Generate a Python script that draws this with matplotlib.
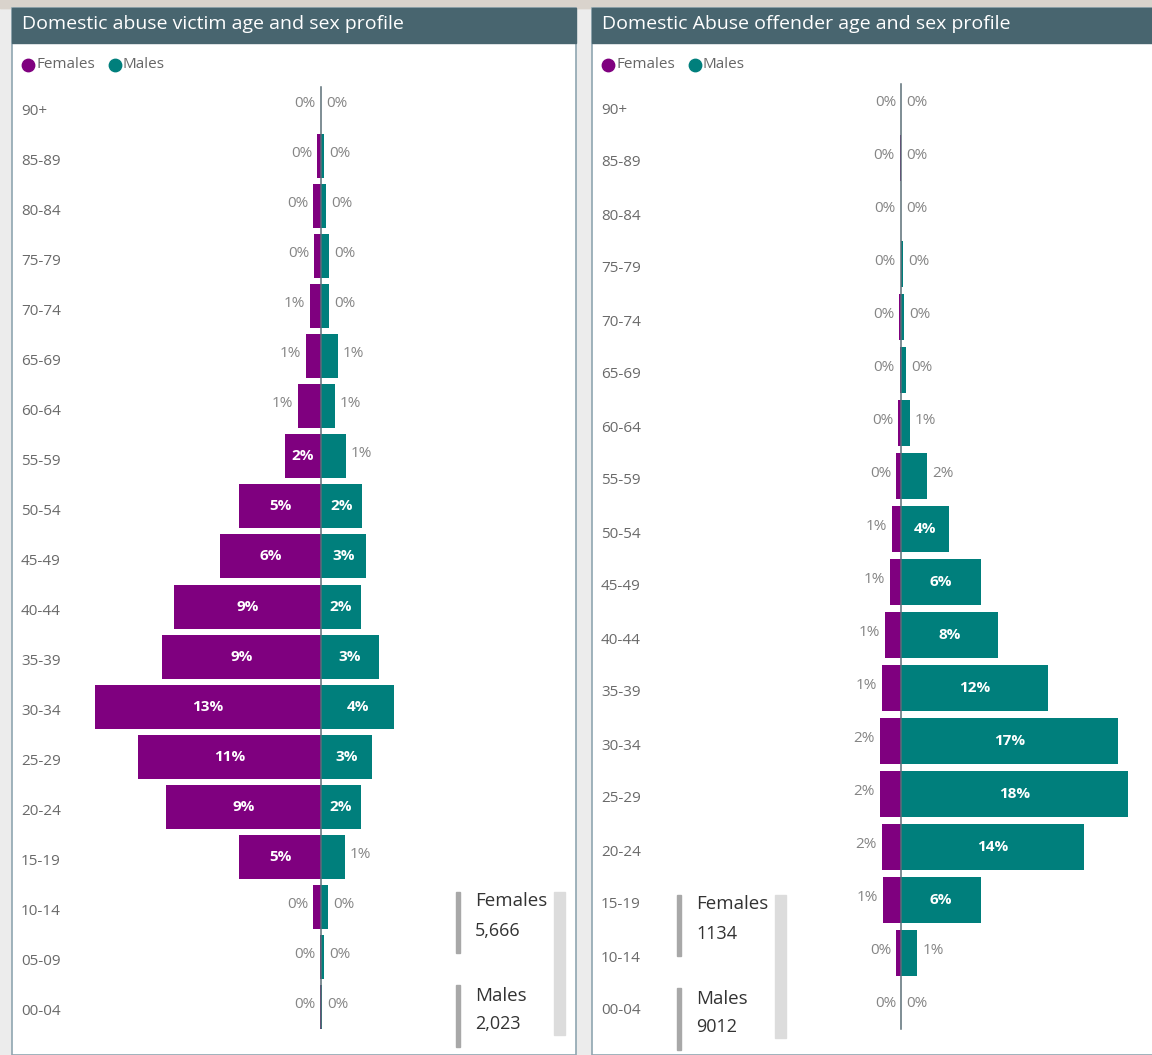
import numpy as np
import matplotlib
matplotlib.use('Agg')
import matplotlib.pyplot as plt
from matplotlib.patches import Rectangle

plt.rcParams['font.family'] = ['Open Sans', 'DejaVu Sans']

# Victim profile (% of all victims)
victim_ages = ['90+', '85-89', '80-84', '75-79', '70-74', '65-69', '60-64', '55-59',
               '50-54', '45-49', '40-44', '35-39', '30-34', '25-29', '20-24', '15-19',
               '10-14', '05-09', '00-04']
victim_females = [0.02, 0.22, 0.47, 0.41, 0.65, 0.89, 1.36, 2.13, 4.85, 6.0, 8.7, 9.4,
                  13.4, 10.8, 9.2, 4.85, 0.47, 0.05, 0.05]
victim_males = [0.02, 0.2, 0.3, 0.48, 0.48, 1.0, 0.83, 1.45, 2.45, 2.66, 2.37, 3.43,
                4.32, 3.0, 2.37, 1.42, 0.41, 0.18, 0.05]
victim_totals = ['5,666', '2,023']

# Offender profile (% of all offenders)
offender_ages = ['90+', '85-89', '80-84', '75-79', '70-74', '65-69', '60-64', '55-59',
                 '50-54', '45-49', '40-44', '35-39', '30-34', '25-29', '20-24', '15-19',
                 '10-14', '00-04']
offender_females = [0.0, 0.08, 0.02, 0.02, 0.15, 0.08, 0.2, 0.36, 0.71, 0.84, 1.26, 1.47,
                    1.66, 1.66, 1.52, 1.45, 0.36, 0.0]
offender_males = [0.0, 0.0, 0.02, 0.15, 0.24, 0.39, 0.71, 2.05, 3.79, 6.3, 7.65, 11.6,
                  17.1, 17.9, 14.4, 6.3, 1.29, 0.02]
offender_totals = ['1134', '9012']

PURPLE = '#7f007f'
TEAL = '#007f7c'
HEADER = '#48656f'
W, H = 1152, 1055

fig = plt.figure(figsize=(W / 100, H / 100), dpi=100)
fig.patch.set_facecolor('#ececec')

# pixel-space overlay for the dashboard decorations
deco = fig.add_axes([0, 0, 1, 1], zorder=0)
deco.set_xlim(0, W)
deco.set_ylim(H, 0)
deco.axis('off')


def panel(x0, x1, title, totals, card_x):
    deco.add_patch(Rectangle((0, 0), W, 8, color='#d9d3cc', zorder=0))
    deco.add_patch(Rectangle((x0, 8), x1 - x0, H - 8, facecolor='white',
                             edgecolor='#8fa6b0', lw=1.2, zorder=1))
    deco.add_patch(Rectangle((x0, 8), x1 - x0, 35, color=HEADER, zorder=2))
    deco.text(x0 + 10, 24, title, color='white', fontsize=14, va='center', zorder=3)
    # legend
    deco.scatter([x0 + 16], [65], s=80, color=PURPLE, zorder=3)
    deco.text(x0 + 24, 65, 'Females', color='#666666', fontsize=11, va='center', zorder=3)
    deco.scatter([x0 + 103], [65], s=80, color=TEAL, zorder=3)
    deco.text(x0 + 111, 65, 'Males', color='#666666', fontsize=11, va='center', zorder=3)
    # summary cards
    top = 892 if card_x < 600 else 895
    deco.add_patch(Rectangle((card_x, top), 3.5, 61, color='#a8a8a8', zorder=3))
    deco.add_patch(Rectangle((card_x, top + 93), 3.5, 62, color='#a8a8a8', zorder=3))
    deco.text(card_x + 19, top + 9, 'Females', color='#333333', fontsize=13.5, va='center', zorder=3)
    deco.text(card_x + 19, top + 39, totals[0], color='#333333', fontsize=13, va='center', zorder=3)
    deco.text(card_x + 19, top + 104, 'Males', color='#333333', fontsize=13.5, va='center', zorder=3)
    deco.text(card_x + 19, top + 132, totals[1], color='#333333', fontsize=13, va='center', zorder=3)
    deco.add_patch(Rectangle((card_x + 98, top), 11, 143, color='#dcdcdc', zorder=3))


panel(12, 576, 'Domestic abuse victim age and sex profile', victim_totals, 456)
panel(592, 1160, 'Domestic Abuse offender age and sex profile', offender_totals, 677)


def pyramid(ages, females, males, ax_left, ax_right, centre, scale, top, step,
            label_x, bar_h):
    n = len(ages)
    bottom = top + step * n
    ax = fig.add_axes([ax_left / W, 1 - bottom / H, (ax_right - ax_left) / W,
                       (bottom - top) / H], zorder=2)
    ax.set_xlim(-(centre - ax_left) / scale, (ax_right - centre) / scale)
    ax.set_ylim(n - 0.5, -0.5)
    ax.axis('off')
    ax.patch.set_alpha(0)
    y = np.arange(n)
    f = np.array(females)
    m = np.array(males)
    ax.barh(y, -f, height=bar_h, color=PURPLE)
    ax.barh(y, m, height=bar_h, color=TEAL)
    ax.axvline(0, ymin=0.004, ymax=0.994, color='#5b6f77', lw=1.1)
    thr = 30 / scale
    off = 5 / scale
    for i in range(n):
        for v, sign in ((f[i], -1), (m[i], 1)):
            txt = f'{v:.0f}%'
            if v >= thr:
                ax.text(sign * v / 2, i, txt, color='white', fontsize=11,
                        fontweight='bold', ha='center', va='center')
            else:
                ax.text(sign * (v + off), i - 0.05, txt, color='#858585', fontsize=11,
                        ha='right' if sign < 0 else 'left', va='center')
        deco.text(label_x, top + step * (i + 0.5) + 5, ages[i], color='#6a6a6a',
                  fontsize=11, va='center', zorder=3)
    return ax


pyramid(victim_ages, victim_females, victim_males, 20, 570, 321, 16.9, 81, 50.05, 21, 0.88)
pyramid(offender_ages, offender_females, offender_males, 600, 1150, 901, 12.68, 78.5, 53,
        601, 0.87)

fig.savefig('out.png', dpi=100)
